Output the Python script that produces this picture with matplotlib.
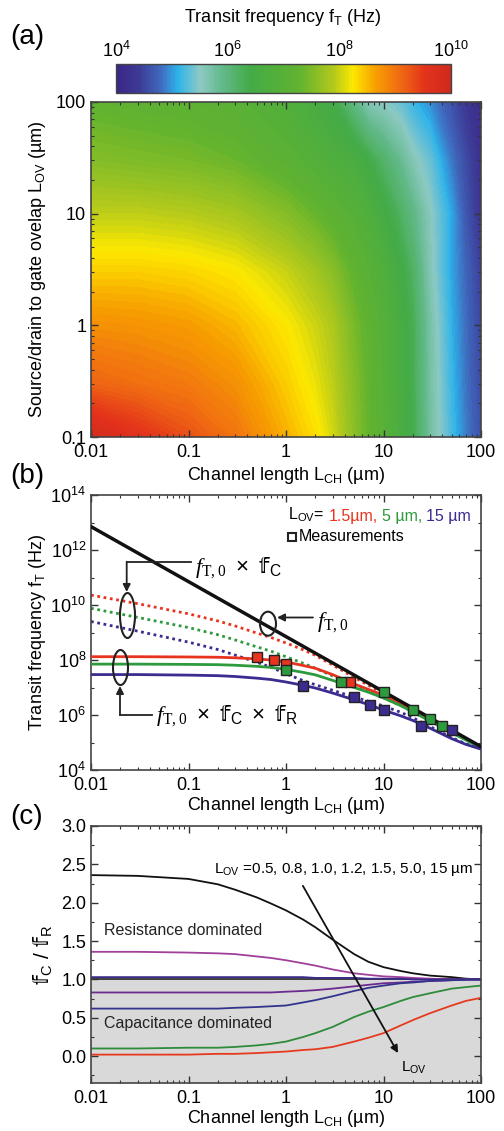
import numpy as np
import matplotlib
matplotlib.use("Agg")
import matplotlib.pyplot as plt
from matplotlib import font_manager
from matplotlib.ft2font import FT2Font
from matplotlib.cm import ScalarMappable
from matplotlib.colors import LinearSegmentedColormap, Normalize
from matplotlib.patches import Ellipse
from matplotlib.lines import Line2D
from matplotlib.ticker import LogLocator, FixedLocator, FuncFormatter, MultipleLocator, NullFormatter

W, H = 504, 1131

# ---- (a) log10(fT) map ----
map_lch = [0.01, 0.03, 0.1, 0.3, 1, 2, 3, 5, 7, 10, 15, 20, 30, 50, 70, 100]
map_lov = [0.1, 0.3, 1, 3, 10, 30, 100]
map_logft = [
    [9.90, 9.60, 9.30, 9.00, 8.55, 8.30, 8.05, 7.60, 7.30, 7.00, 6.60, 6.35, 5.75, 5.20, 4.88, 4.60],
    [9.15, 9.05, 8.95, 8.78, 8.40, 8.15, 7.95, 7.55, 7.27, 6.97, 6.58, 6.32, 5.72, 5.15, 4.83, 4.55],
    [8.78, 8.75, 8.68, 8.52, 8.24, 8.02, 7.85, 7.45, 7.20, 6.92, 6.55, 6.30, 5.70, 5.10, 4.80, 4.50],
    [8.40, 8.40, 8.35, 8.25, 8.00, 7.78, 7.60, 7.25, 7.02, 6.78, 6.45, 6.20, 5.60, 5.05, 4.75, 4.45],
    [7.95, 7.95, 7.90, 7.80, 7.55, 7.32, 7.15, 6.95, 6.75, 6.50, 6.20, 5.95, 5.55, 5.05, 4.65, 4.30],
    [7.55, 7.50, 7.45, 7.35, 7.10, 6.88, 6.75, 6.60, 6.40, 6.15, 5.85, 5.60, 5.35, 4.85, 4.55, 4.25],
    [7.25, 7.20, 7.15, 7.05, 6.80, 6.55, 6.40, 5.95, 5.60, 5.50, 5.35, 5.15, 4.95, 4.60, 4.35, 4.15],
]

# ---- (b) transit frequency, log10(fT) ----
lch = [0.01, 0.03, 0.1, 0.2, 0.3, 0.5, 0.7, 1, 1.5, 2, 3, 5, 7, 10, 15, 20, 30, 50, 70, 100]
ft0_l = [0.01, 100]
ft0 = [12.85, 4.85]
ftc = {
    "1.5": [10.36, 10.05, 9.68, 9.42, 9.24, 8.98, 8.82, 8.62, 8.37, 8.17, 7.82, 7.37, 7.08, 6.79, 6.45, 6.21, 5.86, 5.42, 5.13, 4.83],
    "5": [9.88, 9.55, 9.18, 8.92, 8.73, 8.48, 8.32, 8.12, 7.88, 7.70, 7.42, 7.07, 6.85, 6.62, 6.35, 6.12, 5.80, 5.38, 5.10, 4.80],
    "15": [9.40, 9.05, 8.65, 8.38, 8.18, 7.92, 7.74, 7.50, 7.25, 7.10, 6.90, 6.65, 6.50, 6.33, 6.10, 5.90, 5.58, 5.18, 4.95, 4.77],
}
ftcr = {
    "1.5": [8.12, 8.12, 8.11, 8.10, 8.08, 8.04, 8.00, 7.93, 7.80, 7.70, 7.47, 7.13, 6.93, 6.72, 6.42, 6.18, 5.84, 5.40, 5.12, 4.83],
    "5": [7.85, 7.85, 7.84, 7.83, 7.81, 7.77, 7.73, 7.66, 7.55, 7.46, 7.26, 7.00, 6.83, 6.62, 6.34, 6.11, 5.78, 5.36, 5.09, 4.80],
    "15": [7.47, 7.47, 7.45, 7.43, 7.40, 7.34, 7.29, 7.20, 7.08, 6.98, 6.80, 6.55, 6.38, 6.18, 5.97, 5.80, 5.52, 5.14, 4.93, 4.76],
}
meas_l = {
    "1.5": [0.5, 0.75, 1.0, 4.5],
    "5": [1.0, 3.7, 10, 20, 30, 40],
    "15": [1.5, 5, 7.3, 10, 24.5, 50],
}
meas_ft = {
    "1.5": [8.12, 8.00, 7.85, 7.21],
    "5": [7.64, 7.21, 6.83, 6.18, 5.84, 5.60],
    "15": [7.05, 6.67, 6.36, 6.18, 5.60, 5.45],
}
lov_b_colors = {"1.5": "#e8331f", "5": "#2e9a3e", "15": "#3b2d8f"}

# ---- (c) fC / fR ----
lov_c = ["0.5", "0.8", "1.0", "1.2", "1.5", "5.0", "15"]
ratio = [
    [2.36, 2.35, 2.31, 2.24, 2.17, 2.07, 1.99, 1.90, 1.78, 1.68, 1.52, 1.33, 1.23, 1.16, 1.11, 1.08, 1.05, 1.03, 1.01, 1.00],
    [1.36, 1.36, 1.35, 1.34, 1.33, 1.30, 1.28, 1.25, 1.21, 1.18, 1.13, 1.08, 1.06, 1.04, 1.03, 1.02, 1.01, 1.00, 1.00, 1.00],
    [1.03, 1.03, 1.03, 1.03, 1.03, 1.03, 1.03, 1.03, 1.03, 1.02, 1.02, 1.02, 1.01, 1.01, 1.01, 1.00, 1.00, 1.00, 1.00, 1.00],
    [0.83, 0.83, 0.83, 0.83, 0.83, 0.83, 0.83, 0.84, 0.85, 0.86, 0.88, 0.91, 0.93, 0.95, 0.96, 0.97, 0.98, 0.99, 1.00, 1.00],
    [0.62, 0.62, 0.62, 0.62, 0.63, 0.64, 0.65, 0.66, 0.70, 0.73, 0.78, 0.85, 0.89, 0.92, 0.95, 0.96, 0.98, 0.99, 0.995, 1.00],
    [0.10, 0.10, 0.11, 0.11, 0.12, 0.14, 0.16, 0.19, 0.25, 0.30, 0.38, 0.51, 0.58, 0.64, 0.72, 0.77, 0.82, 0.88, 0.90, 0.92],
    [0.02, 0.02, 0.02, 0.03, 0.03, 0.04, 0.05, 0.06, 0.08, 0.09, 0.12, 0.19, 0.24, 0.30, 0.40, 0.47, 0.56, 0.66, 0.72, 0.76],
]
ratio_colors = ["#111111", "#a0409a", "#3a2a8a", "#6b2c8e", "#32348c", "#2e8b3a", "#e63a1e"]

# colour scale of the map (log10 Hz -> colour)
cmap_nodes = [4.0, 4.4, 4.8, 5.1, 5.5, 5.9, 6.4, 7.3, 7.9, 8.25, 8.65, 9.1, 9.55, 10.0]
cmap_hex = ["#3b2687", "#3d3a96", "#3f6bbf", "#2db3ea", "#8ec9c4", "#62b98a", "#43ab47",
            "#62b32f", "#b3c91b", "#fde800", "#f7a000", "#f06a12", "#e3321b", "#cf2a1d"]
cmap = LinearSegmentedColormap.from_list(
    "ft", [((v - 4.0) / 6.0, c) for v, c in zip(cmap_nodes, cmap_hex)])


def find_family(ch):
    # look for an installed font that has the double-struck f
    fonts = sorted(font_manager.fontManager.ttflist,
                   key=lambda f: (f.name != "DejaVu Sans", f.style != "normal", f.weight != 400))
    for f in fonts:
        try:
            if FT2Font(f.fname).get_char_index(ord(ch)):
                return f.name
        except Exception:
            continue
    return "DejaVu Sans"


BB = "\U0001D557"
bb_family = find_family(BB)

plt.rcParams["font.family"] = ["Liberation Sans", "DejaVu Sans"]
plt.rcParams["mathtext.fontset"] = "custom"
plt.rcParams["mathtext.rm"] = "Liberation Sans"
plt.rcParams["mathtext.it"] = "Liberation Sans:italic"
plt.rcParams["mathtext.bf"] = bb_family
plt.rcParams["mathtext.sf"] = "Liberation Sans"
plt.rcParams["mathtext.cal"] = "Liberation Serif:italic"
plt.rcParams["mathtext.tt"] = "Liberation Serif"

fig = plt.figure(figsize=(W / 100, H / 100), dpi=100)


def fp(x, y):
    """pixel position (from top-left) -> figure fraction"""
    return x / W, 1 - y / H


def ax_rect(left, top, right, bottom):
    return [left / W, 1 - bottom / H, (right - left) / W, (bottom - top) / H]


def style(ax):
    ax.tick_params(which="both", direction="in", top=True, right=True, labelsize=13,
                   color="#333333")
    ax.tick_params(which="major", length=5, width=1)
    ax.tick_params(which="minor", length=2.5, width=0.8)
    for s in ax.spines.values():
        s.set_linewidth(1.2)
        s.set_color("#444444")


def log_x(ax, pad=1):
    ax.set_xscale("log")
    ax.set_xlim(0.01, 100)
    ax.xaxis.set_major_formatter(FuncFormatter(lambda v, _: f"{v:g}"))
    ax.xaxis.set_minor_locator(LogLocator(base=10, subs=np.arange(2, 10)))
    ax.xaxis.set_minor_formatter(NullFormatter())
    ax.set_xlabel("Channel length L$_\\mathrm{CH}$ (µm)", fontsize=13, labelpad=pad)
    ax.tick_params(axis="x", pad=5)


# ---------------- (a) ----------------
rect_a = ax_rect(91, 102, 481, 437)
ax_img = fig.add_axes(rect_a)
ax_img.contourf(np.log10(map_lch), np.log10(map_lov), np.array(map_logft),
                levels=np.linspace(4, 10, 121), cmap=cmap, vmin=4, vmax=10)
ax_img.set_xlim(-2, 2)
ax_img.set_ylim(-1, 2)
ax_img.axis("off")

ax_a = fig.add_axes(rect_a)
ax_a.set_facecolor("none")
log_x(ax_a, pad=3)
ax_a.set_yscale("log")
ax_a.set_ylim(0.1, 100)
ax_a.yaxis.set_major_formatter(FuncFormatter(lambda v, _: f"{v:g}"))
ax_a.yaxis.set_minor_locator(LogLocator(base=10, subs=np.arange(2, 10)))
ax_a.yaxis.set_minor_formatter(NullFormatter())
ax_a.set_ylabel("Source/drain to gate ovelap L$_\\mathrm{OV}$ (µm)", fontsize=13, labelpad=6)
style(ax_a)

cax = fig.add_axes(ax_rect(116, 64, 451, 93))
cb = fig.colorbar(ScalarMappable(norm=Normalize(4, 10), cmap=cmap), cax=cax,
                  orientation="horizontal", ticks=[4, 6, 8, 10])
cb.ax.xaxis.set_ticks_position("top")
cb.ax.set_xticklabels([f"$10^{{{t}}}$" for t in [4, 6, 8, 10]])
cb.ax.tick_params(length=0, labelsize=13, pad=2)
cb.outline.set_linewidth(1)
cb.outline.set_edgecolor("#444444")
fig.text(*fp(283, 18), "Transit frequency f$_\\mathrm{T}$ (Hz)", fontsize=13,
         ha="center", va="center")

# ---------------- (b) ----------------
ax_b = fig.add_axes(ax_rect(91, 495, 481, 770))
ax_b.plot(ft0_l, 10 ** np.array(ft0), color="#111111", lw=2.5, zorder=4)
for key, col in lov_b_colors.items():
    ax_b.plot(lch, 10 ** np.array(ftc[key]), color=col, lw=2, ls=(0, (1, 1.3)), zorder=2)
for key, col in lov_b_colors.items():
    ax_b.plot(lch, 10 ** np.array(ftcr[key]), color=col, lw=2, zorder=3)
for key, col in lov_b_colors.items():
    ax_b.plot(meas_l[key], 10 ** np.array(meas_ft[key]), ls="none", marker="s", ms=6.5,
              mfc=col, mec="#222222", mew=1, zorder=5)
log_x(ax_b)
ax_b.set_yscale("log")
ax_b.set_ylim(1e4, 1e14)
ax_b.yaxis.set_major_locator(LogLocator(base=100))
ax_b.yaxis.set_major_formatter(FuncFormatter(lambda v, _: f"$10^{{{int(round(np.log10(v)))}}}$"))
ax_b.yaxis.set_minor_locator(FixedLocator([1e5, 1e7, 1e9, 1e11, 1e13]))
ax_b.yaxis.set_minor_formatter(NullFormatter())
ax_b.set_ylabel("Transit frequency f$_\\mathrm{T}$ (Hz)", fontsize=13, labelpad=2)
style(ax_b)

# legend text
t0 = ax_b.text(0.505, 0.927, "L$_\\mathrm{OV}$=", transform=ax_b.transAxes, fontsize=11.5,
               va="center")
t1 = ax_b.annotate("1.5µm,", xy=(1, 0), xycoords=t0, xytext=(3, 0), textcoords="offset points",
                   va="bottom", fontsize=11.5, color=lov_b_colors["1.5"])
t2 = ax_b.annotate("5 µm,", xy=(1, 0), xycoords=t1, xytext=(3, 0), textcoords="offset points",
                   va="bottom", fontsize=11.5, color=lov_b_colors["5"])
ax_b.annotate("15 µm", xy=(1, 0), xycoords=t2, xytext=(3, 0), textcoords="offset points",
              va="bottom", fontsize=11.5, color=lov_b_colors["15"])
ax_b.plot([0.515], [0.848], transform=ax_b.transAxes, marker="s", ms=6, mfc="none",
          mec="#222222", mew=1.5)
ax_b.text(0.533, 0.848, "Measurements", transform=ax_b.transAxes, fontsize=11.5, va="center")

# ellipses and arrows
ell = [(127.5, 615.5, 15, 45), (120.5, 667.5, 15, 35), (268, 623.7, 16, 24)]
for cx, cy, w, h in ell:
    fig.add_artist(Ellipse(fp(cx, cy), w / W, h / H, transform=fig.transFigure,
                           fill=False, ec="#222222", lw=1.5, zorder=10))
arrow_kw = dict(arrowstyle="-|>", color="#222222", lw=1.3, shrinkA=0, shrinkB=0,
                mutation_scale=11)
fig.add_artist(Line2D([191 / W, 126.7 / W], [1 - 561.7 / H, 1 - 561.7 / H],
                      transform=fig.transFigure, color="#222222", lw=1.3))
ax_b.annotate("", xy=fp(126.7, 592), xytext=fp(126.7, 561.7), xycoords="figure fraction",
              arrowprops=arrow_kw)
fig.add_artist(Line2D([152 / W, 120 / W], [1 - 715 / H, 1 - 715 / H],
                      transform=fig.transFigure, color="#222222", lw=1.3))
ax_b.annotate("", xy=fp(120, 686), xytext=fp(120, 715), xycoords="figure fraction",
              arrowprops=arrow_kw)
ax_b.annotate("", xy=fp(277, 617.5), xytext=fp(313, 617.5), xycoords="figure fraction",
              arrowprops=arrow_kw)
f_t0 = r"\mathcal{f}_{\mathtt{T,0}}"
bb_c = r"\mathbf{" + BB + r"}_{\mathrm{C}}"
bb_r = r"\mathbf{" + BB + r"}_{\mathrm{R}}"
fig.text(*fp(195, 568), f"${f_t0}\\ \\times\\ {bb_c}$", fontsize=16, va="center")
fig.text(*fp(156, 716), f"${f_t0}\\ \\times\\ {bb_c}\\ \\times\\ {bb_r}$", fontsize=16,
         va="center")
fig.text(*fp(317, 623), f"${f_t0}$", fontsize=16, va="center")

# ---------------- (c) ----------------
ax_c = fig.add_axes(ax_rect(91, 826, 481, 1083))
ax_c.set_ylim(-0.35, 3.0)
ax_c.axhspan(-0.35, 1.0, color="#d9d9d9", zorder=0, lw=0)
ax_c.axhline(1.0, color="#222222", lw=1.2, zorder=1)
for vals, col in zip(ratio, ratio_colors):
    ax_c.plot(lch, vals, color=col, lw=1.3, zorder=2)
log_x(ax_c)
ax_c.yaxis.set_major_locator(MultipleLocator(0.5))
ax_c.yaxis.set_minor_locator(MultipleLocator(0.25))
ax_c.yaxis.set_major_formatter(FuncFormatter(lambda v, _: f"{v:.1f}"))
ax_c.set_ylabel(f"${bb_c}$ / ${bb_r}$", fontsize=15, labelpad=4)
style(ax_c)
ax_c.text(0.033, 0.595, "Resistance dominated", transform=ax_c.transAxes, fontsize=11.5,
          va="center", color="#222222")
ax_c.text(0.033, 0.23, "Capacitance dominated", transform=ax_c.transAxes, fontsize=11.5,
          va="center", color="#222222")
ax_c.text(0.979, 0.829, "L$_\\mathrm{OV}$ =" + ", ".join(lov_c) + " µm",
          transform=ax_c.transAxes, fontsize=11, ha="right", va="center")
ax_c.annotate("", xy=(14.1, 0.04), xytext=(1.49, 2.22),
              arrowprops=dict(arrowstyle="-|>", color="#111111", lw=1.3, shrinkA=0,
                              shrinkB=0, mutation_scale=11))
ax_c.text(0.795, 0.06, "L$_\\mathrm{OV}$", transform=ax_c.transAxes, fontsize=11, va="center")

# panel labels
for lab, y in [("(a)", 37), ("(b)", 476), ("(c)", 817)]:
    fig.text(*fp(10, y), lab, fontsize=20, va="center")

fig.savefig("out.png", dpi=100)
